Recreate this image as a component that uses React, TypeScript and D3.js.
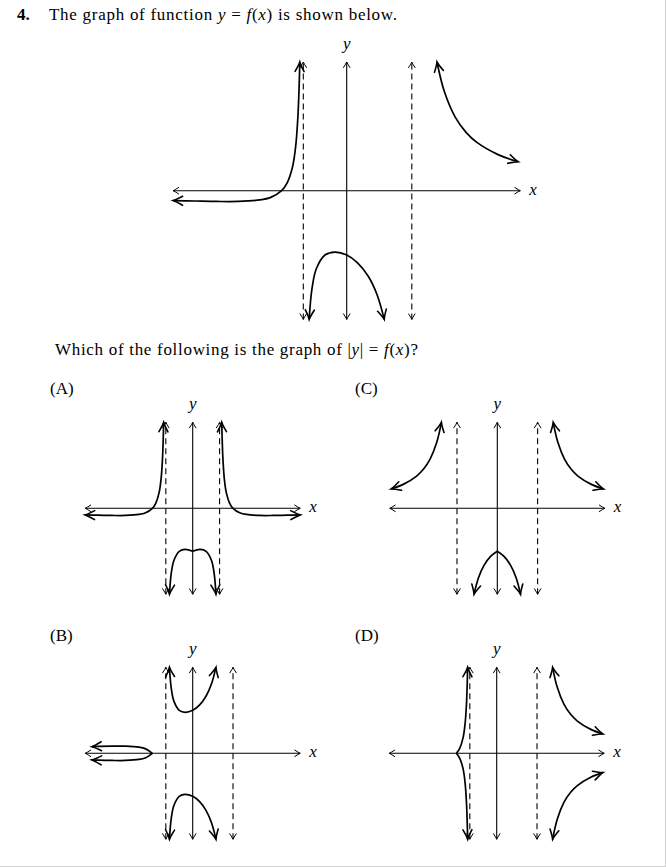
import React from 'react';
import * as d3 from 'd3';

type Pt = [number, number];

// values (x, y in graph units)
const mainAsymptotes = [-2, 3];
const mainLeft: Pt[] = [[-8, -0.46], [-7, -0.48], [-6, -0.5], [-5, -0.5], [-4, -0.43], [-3.5, -0.31], [-3, 0], [-2.75, 0.35], [-2.5, 1.09], [-2.35, 2.08], [-2.25, 3.43], [-2.2, 4.62], [-2.16, 6]];
const mainMiddle: Pt[] = [[-1.73, -6], [-1.6, -4.57], [-1.4, -3.64], [-1, -3], [-0.55, -2.86], [0, -3], [0.5, -3.36], [1, -4], [1.4, -4.85], [1.73, -6]];
const mainRight: Pt[] = [[4.16, 6], [4.5, 4.62], [5, 3.43], [5.5, 2.72], [6, 2.25], [7, 1.67], [7.9, 1.35]];

const aAsymptotes = [-2, 2];
const aLeft: Pt[] = [[-8, -0.46], [-7, -0.48], [-6, -0.5], [-5, -0.5], [-4, -0.43], [-3.5, -0.31], [-3, 0], [-2.75, 0.35], [-2.5, 1.09], [-2.35, 2.08], [-2.25, 3.43], [-2.2, 4.62], [-2.16, 6]];
const aRight: Pt[] = [[8, -0.46], [7, -0.48], [6, -0.5], [5, -0.5], [4, -0.43], [3.5, -0.31], [3, 0], [2.75, 0.35], [2.5, 1.09], [2.35, 2.08], [2.25, 3.43], [2.2, 4.62], [2.16, 6]];
const aMidLeft: Pt[] = [[-1.73, -6], [-1.6, -4.57], [-1.4, -3.64], [-1, -3], [-0.55, -2.86], [0, -3]];
const aMidRight: Pt[] = [[1.73, -6], [1.6, -4.57], [1.4, -3.64], [1, -3], [0.55, -2.86], [0, -3]];

const bAsymptotes = [-2, 3];
const bLeftUpper: Pt[] = [[-7.5, 0.46], [-7, 0.48], [-6, 0.5], [-5, 0.5], [-4, 0.43], [-3.5, 0.31], [-3, 0]];
const bLeftLower: Pt[] = [[-7.5, -0.46], [-7, -0.48], [-6, -0.5], [-5, -0.5], [-4, -0.43], [-3.5, -0.31], [-3, 0]];
const bMidUpper: Pt[] = [[-1.73, 6], [-1.6, 4.57], [-1.4, 3.64], [-1, 3], [-0.55, 2.86], [0, 3], [0.5, 3.36], [1, 4], [1.4, 4.85], [1.73, 6]];
const bMidLower: Pt[] = [[-1.73, -6], [-1.6, -4.57], [-1.4, -3.64], [-1, -3], [-0.55, -2.86], [0, -3], [0.5, -3.36], [1, -4], [1.4, -4.85], [1.73, -6]];

const cAsymptotes = [-3, 3];
const cLeft: Pt[] = [[-7.9, 1.35], [-7, 1.67], [-6, 2.25], [-5.5, 2.72], [-5, 3.43], [-4.5, 4.62], [-4.16, 6]];
const cRight: Pt[] = [[4.16, 6], [4.5, 4.62], [5, 3.43], [5.5, 2.72], [6, 2.25], [7, 1.67], [7.9, 1.35]];
const cMidLeft: Pt[] = [[-1.73, -6], [-1.4, -4.85], [-1, -4], [-0.5, -3.36], [0, -3]];
const cMidRight: Pt[] = [[1.73, -6], [1.4, -4.85], [1, -4], [0.5, -3.36], [0, -3]];

const dAsymptotes = [-2, 3];
const dLeftUpper: Pt[] = [[-3, 0], [-2.75, 0.35], [-2.5, 1.09], [-2.35, 2.08], [-2.25, 3.43], [-2.2, 4.62], [-2.16, 6]];
const dLeftLower: Pt[] = [[-3, 0], [-2.75, -0.35], [-2.5, -1.09], [-2.35, -2.08], [-2.25, -3.43], [-2.2, -4.62], [-2.16, -6]];
const dRightUpper: Pt[] = [[4.16, 6], [4.5, 4.62], [5, 3.43], [5.5, 2.72], [6, 2.25], [7, 1.67], [7.9, 1.35]];
const dRightLower: Pt[] = [[4.16, -6], [4.5, -4.62], [5, -3.43], [5.5, -2.72], [6, -2.25], [7, -1.67], [7.9, -1.35]];

const xDomain = [-8, 8];
const yDomain = [-6, 6];

type Curve = { pts: Pt[]; start: boolean; end: boolean };

const line = d3.line<Pt>().curve(d3.curveCatmullRom.alpha(0.5));

function Graph(props: { cx: number; cy: number; ux: number; uy: number; asym: number[]; curves: Curve[] }) {
  const { cx, cy, ux, uy } = props;
  const x = d3.scaleLinear().domain(xDomain).range([cx + xDomain[0] * ux, cx + xDomain[1] * ux]);
  const y = d3.scaleLinear().domain(yDomain).range([cy - yDomain[0] * uy, cy - yDomain[1] * uy]);
  const lp = line.x(d => x(d[0])).y(d => y(d[1]));
  return (
    <g>
      <line x1={x(xDomain[0])} x2={x(xDomain[1])} y1={y(0)} y2={y(0)} stroke="#000" strokeWidth={1.1}
        markerStart="url(#ax)" markerEnd="url(#ax)" />
      <line x1={x(0)} x2={x(0)} y1={y(yDomain[0])} y2={y(yDomain[1])} stroke="#000" strokeWidth={1.1}
        markerStart="url(#ax)" markerEnd="url(#ax)" />
      {props.asym.map(a => (
        <line key={a} x1={x(a)} x2={x(a)} y1={y(yDomain[0])} y2={y(yDomain[1])} stroke="#000" strokeWidth={1.1}
          strokeDasharray="6,4" markerStart="url(#ax)" markerEnd="url(#ax)" />
      ))}
      {props.curves.map((c, i) => (
        <path key={i} d={lp(c.pts) || ''} fill="none" stroke="#000" strokeWidth={1.7}
          markerStart={c.start ? 'url(#cv)' : undefined} markerEnd={c.end ? 'url(#cv)' : undefined} />
      ))}
      <text x={x(xDomain[1]) + 9} y={y(0) + 4} fontStyle="italic" fontSize={17}>x</text>
      <text x={x(0)} y={y(yDomain[1]) - 13.5} fontStyle="italic" fontSize={17} textAnchor="middle">y</text>
    </g>
  );
}

const both = (pts: Pt[]): Curve => ({ pts, start: true, end: true });
const tail = (pts: Pt[]): Curve => ({ pts, start: false, end: true });
const head = (pts: Pt[]): Curve => ({ pts, start: true, end: false });

export default function App() {
  const sub = { ux: 13.44, uy: 14.33 };
  return (
    <svg width={666} height={867} style={{ position: 'absolute', left: 0, top: 0 }}
      fontFamily="'Liberation Serif', serif" fill="#000">
      <defs>
        <marker id="ax" markerUnits="userSpaceOnUse" orient="auto-start-reverse" refX={0} refY={0}
          viewBox="-10 -10 20 20" markerWidth={20} markerHeight={20} overflow="visible">
          <path d="M -5.5,-3.2 Q -1.5,-0.6 0,0 Q -1.5,0.6 -5.5,3.2" fill="none" stroke="#000" strokeWidth={1} strokeLinecap="round" />
        </marker>
        <marker id="cv" markerUnits="userSpaceOnUse" orient="auto-start-reverse" refX={0} refY={0}
          viewBox="-12 -12 24 24" markerWidth={24} markerHeight={24} overflow="visible">
          <path d="M -9.5,-4.5 Q -3,-0.9 0,0 Q -3,0.9 -9.5,4.5" fill="none" stroke="#000" strokeWidth={1.6} strokeLinecap="round" />
        </marker>
      </defs>

      <text x={17} y={20} fontSize={17} fontWeight="bold">4.</text>
      <text x={49} y={20} fontSize={17} textLength={348} lengthAdjust="spacing">
        {'The graph of function '}<tspan fontStyle="italic">y</tspan>{' = '}<tspan fontStyle="italic">f</tspan>{'('}
        <tspan fontStyle="italic">x</tspan>{') is shown below.'}
      </text>

      <Graph cx={346.7} cy={190.7} ux={21.7} uy={21.45} asym={mainAsymptotes}
        curves={[both(mainLeft), both(mainMiddle), both(mainRight)]} />

      <text x={55} y={355} fontSize={17} textLength={363} lengthAdjust="spacing">
        {'Which of the following is the graph of |'}<tspan fontStyle="italic">y</tspan>{'| = '}
        <tspan fontStyle="italic">f</tspan>{'('}<tspan fontStyle="italic">x</tspan>{')?'}
      </text>

      <text x={50} y={393.5} fontSize={17}>(A)</text>
      <text x={355} y={393.5} fontSize={17}>(C)</text>
      <text x={50} y={640.5} fontSize={17}>(B)</text>
      <text x={355} y={640.5} fontSize={17}>(D)</text>

      <Graph cx={192.7} cy={508.3} {...sub} asym={aAsymptotes}
        curves={[both(aLeft), both(aRight), head(aMidLeft), head(aMidRight)]} />
      <Graph cx={497.3} cy={508.3} {...sub} asym={cAsymptotes}
        curves={[both(cLeft), both(cRight), head(cMidLeft), head(cMidRight)]} />
      <Graph cx={192.7} cy={753.3} {...sub} asym={bAsymptotes}
        curves={[head(bLeftUpper), head(bLeftLower), both(bMidUpper), both(bMidLower)]} />
      <Graph cx={496.7} cy={753.3} {...sub} asym={dAsymptotes}
        curves={[tail(dLeftUpper), tail(dLeftLower), both(dRightUpper), both(dRightLower)]} />

      <line x1={665.5} x2={665.5} y1={0} y2={866.5} stroke="#d0d0d0" strokeWidth={1} />
      <line x1={0} x2={666} y1={866.5} y2={866.5} stroke="#d0d0d0" strokeWidth={1} />
    </svg>
  );
}
